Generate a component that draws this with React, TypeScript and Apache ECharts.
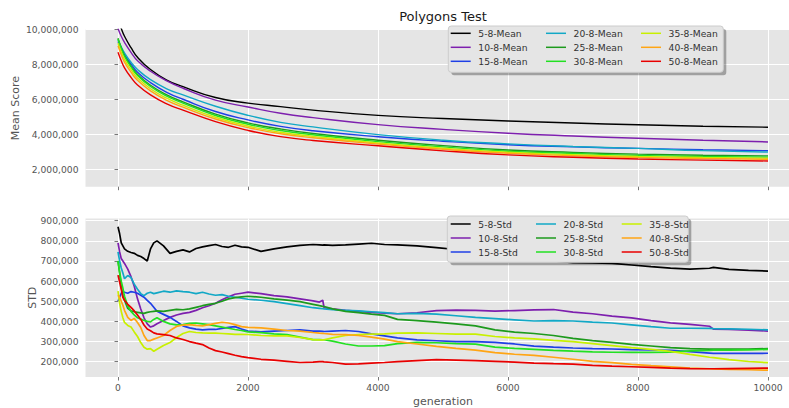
import React, { useEffect, useRef } from "react";
import * as echarts from "echarts";

// ---------- data ----------
const SERIES_KEYS = ["5-8", "10-8", "15-8", "20-8", "25-8", "30-8", "35-8", "40-8", "50-8"];
const COLORS = ["#000000", "#7d1fae", "#1f3fe6", "#12a8c6", "#1d9a1d", "#22e022", "#c8f000", "#ffa514", "#e80000"];

const GEN_TICKS = [0, 2000, 4000, 6000, 8000, 10000];
const MEAN_TICKS = [2000000, 4000000, 6000000, 8000000, 10000000];
const STD_TICKS = [200000, 300000, 400000, 500000, 600000, 700000, 800000, 900000];

// Mean score, in millions
const MEAN_GENERATIONS = [0, 50, 100, 200, 300, 500, 750, 1000, 1500, 2000, 2500, 3000, 4000, 5000, 6000, 7000, 8000, 9000, 10000];
const mean5 = [10.6, 10.05, 9.6, 8.95, 8.4, 7.7, 7.1, 6.72, 6.1, 5.78, 5.58, 5.38, 5.08, 4.9, 4.76, 4.64, 4.54, 4.46, 4.4];
const mean10 = [10.05, 9.6, 9.25, 8.68, 8.2, 7.6, 7.05, 6.63, 5.95, 5.56, 5.2, 4.95, 4.55, 4.28, 4.06, 3.9, 3.77, 3.66, 3.56];
const mean15 = [9.3, 8.9, 8.55, 8.02, 7.55, 6.95, 6.4, 6.0, 5.3, 4.82, 4.45, 4.2, 3.86, 3.6, 3.4, 3.28, 3.19, 3.11, 3.06];
const mean20 = [9.4, 9.0, 8.65, 8.12, 7.7, 7.12, 6.6, 6.25, 5.6, 5.08, 4.68, 4.42, 3.98, 3.66, 3.45, 3.3, 3.19, 3.06, 2.98];
const mean25 = [9.49, 8.95, 8.5, 7.9, 7.42, 6.8, 6.25, 5.85, 5.15, 4.65, 4.3, 4.04, 3.66, 3.35, 3.1, 2.96, 2.86, 2.8, 2.76];
const mean30 = [9.45, 8.9, 8.45, 7.85, 7.36, 6.73, 6.18, 5.78, 5.07, 4.57, 4.21, 3.97, 3.58, 3.28, 3.03, 2.9, 2.79, 2.73, 2.69];
const mean35 = [9.2, 8.7, 8.28, 7.7, 7.22, 6.6, 6.06, 5.66, 4.97, 4.47, 4.11, 3.88, 3.5, 3.2, 2.97, 2.83, 2.73, 2.67, 2.63];
const mean40 = [9.06, 8.55, 8.12, 7.55, 7.08, 6.48, 5.94, 5.55, 4.87, 4.38, 4.03, 3.8, 3.44, 3.14, 2.91, 2.77, 2.67, 2.61, 2.57];
const mean50 = [8.69, 8.2, 7.8, 7.25, 6.82, 6.25, 5.74, 5.38, 4.72, 4.22, 3.86, 3.64, 3.34, 3.05, 2.82, 2.68, 2.58, 2.52, 2.47];

// Standard deviation, in thousands
const STD_GENERATIONS = [
  0, 25, 50, 75, 100, 150, 200, 250, 300, 350,
  400, 450, 500, 550, 600, 700, 800, 900, 1000, 1100,
  1200, 1300, 1400, 1500, 1600, 1700, 1800, 1900, 2000, 2200,
  2400, 2600, 2800, 3000, 3100, 3150, 3170, 3300, 3500, 3700,
  3900, 4100, 4300, 4600, 4900, 5200, 5500, 5800, 6100, 6400,
  6700, 7000, 7300, 7600, 7900, 8200, 8500, 8800, 9100, 9160,
  9400, 9700, 10000,
];
const std5 = [
  870, 835, 790, 775, 760, 748, 742, 738, 728, 722,
  712, 700, 760, 790, 800, 775, 738, 748, 755, 745,
  762, 770, 776, 782, 772, 768, 778, 770, 768, 748,
  760, 770, 778, 782, 780, 779, 780, 778, 780, 784,
  788, 782, 780, 775, 766, 757, 748, 738, 728, 715,
  700, 692, 690, 688, 680, 672, 665, 660, 664, 668,
  658, 653, 650,
];
const std10 = [
  790, 745, 712, 700, 688, 660, 622, 575, 512, 462,
  418, 388, 372, 378, 388, 405, 420, 432, 440, 445,
  455, 468, 478, 490, 508, 522, 535, 540, 545, 538,
  528, 522, 512, 502, 496, 505, 468, 462, 455, 450,
  445, 441, 438, 443, 454, 456, 455, 451, 454, 457,
  459, 446, 438, 426, 418, 404, 393, 385, 376, 362,
  360, 357, 352,
];
const std15 = [
  500, 520, 540, 548, 545, 540, 548, 545, 540, 530,
  520, 505, 490, 470, 450, 435, 420, 400, 378, 368,
  362, 358, 360, 360, 365, 370, 374, 362, 352, 348,
  352, 355, 358, 352, 352, 351, 350, 352, 355, 350,
  338, 328, 318, 308, 304, 300, 300, 296, 288, 277,
  272, 268, 265, 263, 260, 258, 256, 250, 243, 241,
  241, 241, 242,
];
const std20 = [
  745, 700, 665, 640, 612, 628, 618, 585, 560, 538,
  528, 540, 545, 538, 542, 550, 545, 552, 548, 545,
  538, 545, 536, 530, 533, 525, 520, 515, 510, 505,
  498, 488, 478, 468, 465, 463, 462, 458, 455, 452,
  448, 444, 438, 440, 436, 428, 420, 414, 408, 402,
  404, 402, 396, 392, 383, 374, 366, 366, 365, 364,
  363, 361, 358,
];
const std25 = [
  700, 640, 570, 530, 505, 465, 452, 448, 445, 442,
  440, 445, 448, 450, 452, 450, 455, 460, 458, 462,
  470, 478, 485, 490, 500, 512, 518, 522, 525, 520,
  512, 506, 498, 485, 478, 475, 474, 462, 450, 444,
  436, 430, 410, 404, 396, 388, 378, 358, 347, 340,
  330, 316, 305, 296, 286, 278, 270, 265, 262, 262,
  262, 263, 265,
];
const std30 = [
  700, 645, 600, 565, 525, 478, 450, 432, 418, 412,
  405, 400, 398, 410, 418, 400, 388, 383, 384, 390,
  392, 388, 384, 378, 372, 366, 360, 355, 348, 344,
  338, 334, 322, 310, 310, 309, 309, 302, 288, 278,
  278, 280, 290, 296, 294, 290, 287, 272, 266, 261,
  256, 252, 249, 247, 246, 246, 248, 254, 256, 257,
  257, 259, 261,
];
const std35 = [
  550, 490, 450, 418, 395, 380, 372, 348, 325, 295,
  272, 262, 265, 252, 262, 280, 295, 320, 340, 350,
  345, 343, 342, 342, 340, 338, 336, 336, 335, 330,
  328, 328, 320, 310, 308, 308, 309, 318, 330, 335,
  337, 338, 342, 343, 340, 337, 337, 325, 318, 313,
  306, 300, 290, 280, 270, 261, 251, 236, 222, 220,
  210, 201, 195,
];
const std40 = [
  530, 520, 500, 480, 455, 420, 405, 415, 395, 370,
  330, 305, 305, 312, 318, 330, 355, 375, 382, 384,
  380, 378, 384, 390, 396, 392, 384, 374, 370, 368,
  362, 355, 352, 345, 342, 341, 340, 336, 334, 330,
  322, 312, 300, 288, 276, 266, 257, 245, 237, 231,
  222, 212, 202, 195, 187, 180, 174, 168, 165, 164,
  162, 160, 158,
];
const std50 = [
  630, 595, 560, 520, 505, 485, 470, 452, 432, 410,
  382, 362, 354, 343, 338, 334, 330, 318, 310, 300,
  292, 285, 268, 255, 248, 240, 232, 225, 220, 212,
  208, 202, 196, 198, 200, 200, 199, 196, 188, 189,
  193, 196, 200, 205, 210, 208, 205, 202, 198, 193,
  190, 188, 182, 178, 175, 172, 168, 166, 165, 165,
  166, 167, 168,
];

const MEANS = [mean5, mean10, mean15, mean20, mean25, mean30, mean35, mean40, mean50];
const STDS = [std5, std10, std15, std20, std25, std30, std35, std40, std50];

// ---------- chart ----------
const FONT = "DejaVu Sans";
const GRAY = "#555555";
const fmtComma = (v: number) => Math.round(v).toLocaleString("en-US");
const fmtPlain = (v: number) => String(Math.round(v));

function buildOption() {
  const series: any[] = [];
  SERIES_KEYS.forEach((k, i) => {
    series.push({
      name: `${k}-Mean`,
      type: "line",
      xAxisIndex: 0,
      yAxisIndex: 0,
      showSymbol: false,
      symbol: "none",
      smooth: 0.5,
      clip: true,
      lineStyle: { color: COLORS[i], width: 1.4 },
      itemStyle: { color: COLORS[i] },
      data: MEAN_GENERATIONS.map((g, j) => [g, MEANS[i][j] * 1000000]),
    });
  });
  SERIES_KEYS.forEach((k, i) => {
    series.push({
      name: `${k}-Std`,
      type: "line",
      xAxisIndex: 1,
      yAxisIndex: 1,
      showSymbol: false,
      symbol: "none",
      clip: true,
      lineStyle: { color: COLORS[i], width: 1.7 },
      itemStyle: { color: COLORS[i] },
      data: STD_GENERATIONS.map((g, j) => [g, STDS[i][j] * 1000]),
    });
  });

  const xAxisBase = (gridIndex: number, showLabel: boolean) => ({
    type: "value",
    gridIndex,
    min: -500,
    max: 10500,
    axisLine: { show: false },
    axisTick: { show: true, length: 3.5, customValues: GEN_TICKS, lineStyle: { color: GRAY, width: 0.8 } },
    axisLabel: { show: showLabel, customValues: GEN_TICKS, fontSize: 9.2, color: GRAY, fontFamily: FONT, margin: 6, formatter: fmtPlain },
    splitLine: { show: true, customValues: GEN_TICKS, lineStyle: { color: "#ffffff", width: 1 } },
  });

  const yAxisBase = (gridIndex: number, min: number, max: number, ticks: number[], name: string, gap: number) => ({
    type: "value",
    gridIndex,
    min,
    max,
    name,
    nameLocation: "middle",
    nameGap: gap,
    nameMoveOverlap: false,
    nameTextStyle: { fontSize: 11, color: GRAY, fontFamily: FONT },
    axisLine: { show: false },
    axisTick: { show: true, length: 3.5, customValues: ticks, lineStyle: { color: GRAY, width: 0.8 } },
    axisLabel: { customValues: ticks, fontSize: 9.2, color: GRAY, fontFamily: FONT, margin: 7, formatter: fmtComma },
    splitLine: { show: true, customValues: ticks, lineStyle: { color: "#ffffff", width: 1 } },
  });

  const legendBase = (names: string[], left: number, top: number) => ({
    orient: "vertical",
    left,
    top,
    padding: 0,
    itemGap: 0,
    itemWidth: 20,
    itemHeight: 1.5,
    icon: "rect",
    selectedMode: false,
    z: 20,
    textStyle: { fontSize: 9.2, fontFamily: FONT, color: "#333333", lineHeight: 14, padding: [0, 0, 0, 2.6] },
    data: names,
  });

  const meanNames = SERIES_KEYS.map((k) => `${k}-Mean`);
  const stdNames = SERIES_KEYS.map((k) => `${k}-Std`);

  return {
    animation: false,
    textStyle: { fontFamily: FONT },
    title: {
      text: "Polygons Test",
      left: 443,
      top: 10,
      padding: 0,
      textAlign: "center",
      textStyle: { fontSize: 13, fontWeight: "normal", color: "#1a1a1a", fontFamily: FONT },
    },
    grid: [
      { left: 85.5, top: 29.3, width: 715, height: 157.4, show: true, backgroundColor: "#E5E5E5", borderWidth: 0 },
      { left: 85.5, top: 218.5, width: 715, height: 159.2, show: true, backgroundColor: "#E5E5E5", borderWidth: 0 },
    ],
    xAxis: [
      xAxisBase(0, false),
      {
        ...xAxisBase(1, true),
        name: "generation",
        nameLocation: "middle",
        nameGap: 19,
        nameMoveOverlap: false,
        nameTextStyle: { fontSize: 11, color: GRAY, fontFamily: FONT },
      },
    ],
    yAxis: [
      yAxisBase(0, 1000000, 10000000, MEAN_TICKS, "Mean Score", 65),
      yAxisBase(1, 124000, 911000, STD_TICKS, "STD", 48),
    ],
    legend: [
      legendBase(meanNames.slice(0, 3), 450.7, 26.3),
      legendBase(meanNames.slice(3, 6), 546, 26.3),
      legendBase(meanNames.slice(6, 9), 641, 26.3),
      legendBase(stdNames.slice(0, 3), 450.7, 217),
      legendBase(stdNames.slice(3, 6), 536, 217),
      legendBase(stdNames.slice(6, 9), 621.7, 217),
    ],
    graphic: [
      { type: "rect", z: 10, shape: { x: 451.3, y: 29, width: 275, height: 46.3, r: 3 }, style: { fill: "rgba(0,0,0,0.3)" }, silent: true },
      { type: "rect", z: 11, shape: { x: 448.3, y: 26, width: 275, height: 46.3, r: 3 }, style: { fill: "#E5E5E5", stroke: "#CCCCCC", lineWidth: 1 }, silent: true },
      { type: "rect", z: 10, shape: { x: 450.3, y: 219, width: 241, height: 46.3, r: 3 }, style: { fill: "rgba(0,0,0,0.3)" }, silent: true },
      { type: "rect", z: 11, shape: { x: 447.3, y: 216, width: 241, height: 46.3, r: 3 }, style: { fill: "#E5E5E5", stroke: "#CCCCCC", lineWidth: 1 }, silent: true },
    ],
    series,
  };
}

export default function App() {
  const ref = useRef<HTMLDivElement>(null);
  useEffect(() => {
    if (!ref.current) return;
    const chart = echarts.init(ref.current, null, { renderer: "svg" });
    chart.setOption(buildOption() as any);
    return () => chart.dispose();
  }, []);
  return (
    <div
      style={{ position: "fixed", left: 0, top: 0, width: 789, height: 408, overflow: "hidden", background: "#ffffff" }}
    >
      <div ref={ref} style={{ position: "absolute", left: 0, top: 0, width: 801, height: 408 }} />
    </div>
  );
}
